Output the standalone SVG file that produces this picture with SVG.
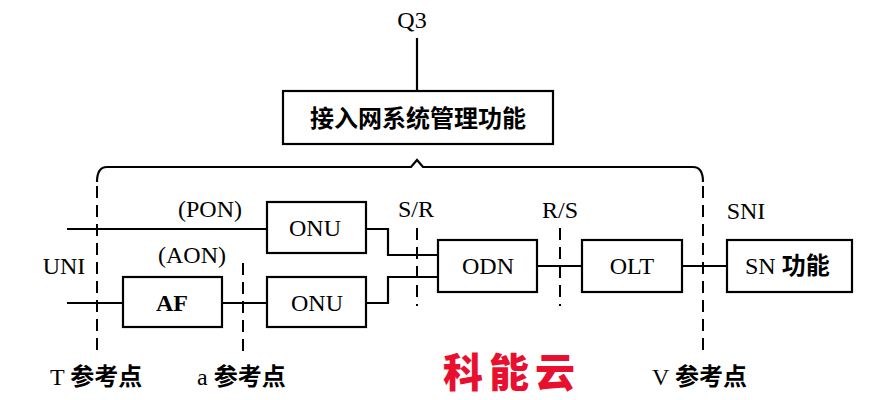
<svg xmlns="http://www.w3.org/2000/svg" width="878" height="400" viewBox="0 0 878 400">
<style>
.box{fill:#fff;stroke:#000;stroke-width:2.2}
.ln{fill:none;stroke:#000;stroke-width:2.2}
.dash{fill:none;stroke:#000;stroke-width:2;stroke-dasharray:12,7}
.t{font-family:"Liberation Serif","Noto Sans CJK SC",serif;font-size:24px;fill:#000;text-anchor:middle}
.s{font-family:"Liberation Serif","Noto Sans CJK SC",serif;font-size:24px;fill:#000}
.cj{font-family:"Noto Sans CJK SC",sans-serif;font-weight:bold;font-size:24px}
.c{font-family:"Noto Sans CJK SC",sans-serif;font-size:24px;font-weight:bold;fill:#000;text-anchor:middle}
</style>
<rect width="878" height="400" fill="#fff"/>
<g id="connectors">
<line class="ln" x1="417" y1="38" x2="417" y2="91"/>
<path class="ln" d="M97,182 Q97,167 107,167 L411,167 L417,160 L423,167 L693,167 Q703,167 703,182"/>
<line class="ln" x1="67" y1="229" x2="267" y2="229"/>
<line class="ln" x1="67" y1="303" x2="123" y2="303"/>
<line class="ln" x1="222" y1="303" x2="267" y2="303"/>
<polyline class="ln" points="366,229 388,229 388,255 438,255"/>
<polyline class="ln" points="366,303 388,303 388,277 438,277"/>
<line class="ln" x1="537" y1="266" x2="582" y2="266"/>
<line class="ln" x1="682" y1="266" x2="727" y2="266"/>
<line class="dash" x1="97" y1="186" x2="97" y2="356"/>
<line class="dash" x1="243" y1="263" x2="243" y2="356"/>
<line class="dash" x1="417" y1="228" x2="417" y2="306"/>
<line class="dash" x1="560" y1="228" x2="560" y2="306"/>
<line class="dash" x1="703" y1="186" x2="703" y2="356"/>
</g>
<g id="q3"><text class="t" x="412" y="28">Q3</text></g>
<g id="mgmt"><rect class="box" x="283" y="91" width="270" height="53"/><text class="c" x="418" y="127">接入网系统管理功能</text></g>
<g id="onu1"><rect class="box" x="267" y="202" width="99" height="51"/><text class="t" x="315" y="236">ONU</text></g>
<g id="af"><rect class="box" x="123" y="277" width="99" height="50"/><text class="t" x="172" y="311" font-weight="bold">AF</text></g>
<g id="onu2"><rect class="box" x="267" y="277" width="99" height="50"/><text class="t" x="317" y="311">ONU</text></g>
<g id="odn"><rect class="box" x="438" y="240" width="99" height="52"/><text class="t" x="488" y="274">ODN</text></g>
<g id="olt"><rect class="box" x="582" y="240" width="100" height="52"/><text class="t" x="632" y="274">OLT</text></g>
<g id="sn"><rect class="box" x="727" y="240" width="125" height="52"/><text class="s" x="745" y="274">SN <tspan class="cj">功能</tspan></text></g>
<g id="labels">
<text class="t" x="210" y="217">(PON)</text>
<text class="t" x="192" y="263">(AON)</text>
<text class="t" x="64" y="274">UNI</text>
<text class="t" x="416" y="217">S/R</text>
<text class="t" x="560" y="218">R/S</text>
<text class="t" x="746" y="219">SNI</text>
<text class="s" x="50" y="385">T <tspan class="cj">参考点</tspan></text>
<text class="s" x="197" y="385">a <tspan class="cj">参考点</tspan></text>
<text class="s" x="652" y="385">V <tspan class="cj">参考点</tspan></text>
<text x="512" y="387" font-family="'Noto Sans CJK SC',sans-serif" font-size="40" font-weight="900" fill="#e8102e" text-anchor="middle" letter-spacing="6">科能云</text>
</g>
</svg>
